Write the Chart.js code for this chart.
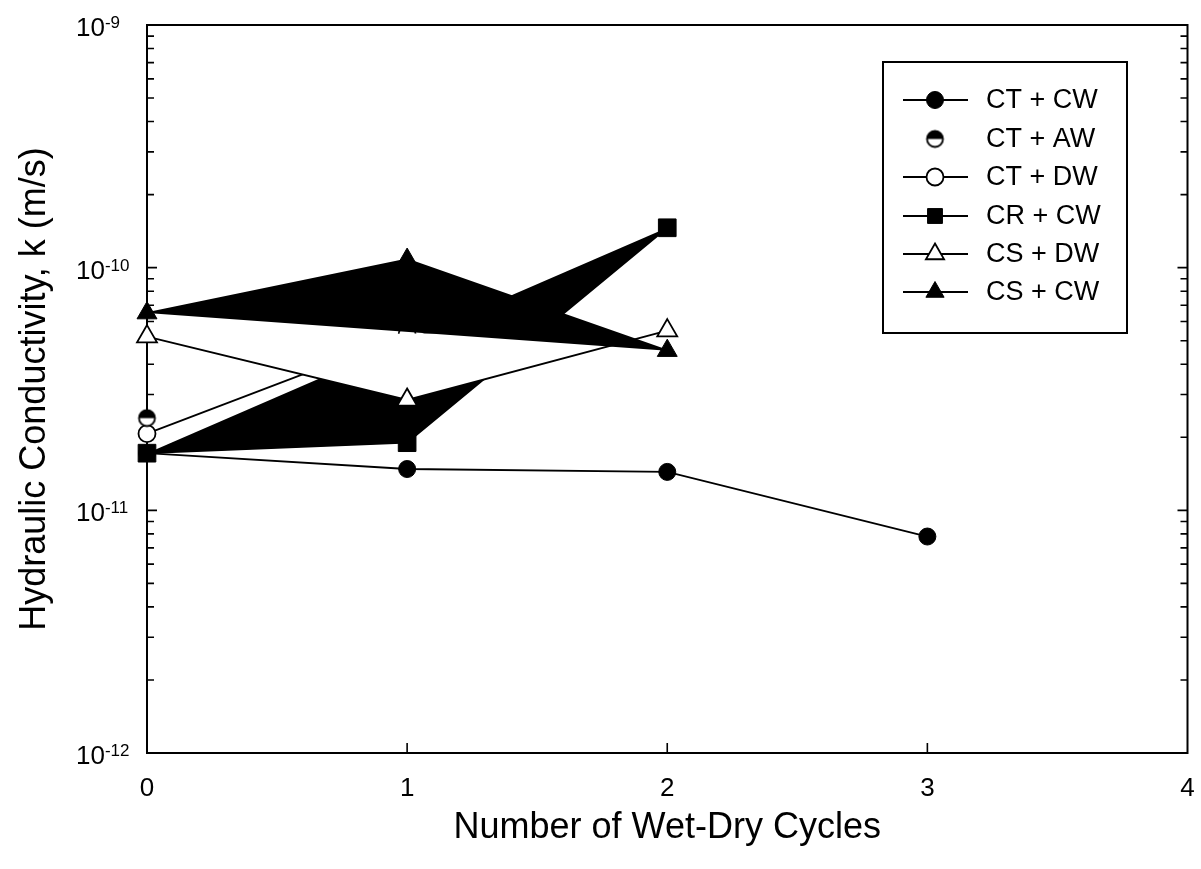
<!DOCTYPE html>
<html>
<head>
<meta charset="utf-8">
<title>Hydraulic Conductivity vs Wet-Dry Cycles</title>
<script src="https://cdn.jsdelivr.net/npm/chart.js@4.4.1/dist/chart.umd.min.js"></script>
<style>
  body { margin: 0; background: #fff; }
  canvas { display: block; }
</style>
</head>
<body>
<canvas id="kChart" width="1201" height="869"></canvas>
<script>
// wet-dry cycle number for each measurement
const cycles = [0, 1, 2, 3];

// hydraulic conductivity k (m/s) per specimen/permeant
const ctCw = [1.72e-11, 1.48e-11, 1.44e-11, 7.8e-12];
const ctAw = [2.4e-11];
const ctDw = [2.07e-11, 5.3e-11];
const crCw = [1.72e-11, 1.9e-11, 1.46e-10];
const csDw = [5.2e-11, 2.85e-11, 5.5e-11];
const csCw = [6.5e-11, 1.08e-10, 4.55e-11];

const seriesNames = ['CT + CW', 'CT + AW', 'CT + DW', 'CR + CW', 'CS + DW', 'CS + CW'];

// axis ticks
const xTicks = [0, 1, 2, 3, 4];
const yDecades = [-12, -11, -10, -9];

const FONT = "'Liberation Sans', Arial, Helvetica, sans-serif";
Chart.defaults.font.family = FONT;
Chart.defaults.color = '#000';

function toPoints(values) {
    return values.map((v, i) => ({ x: cycles[i], y: v }));
}

// half filled circle used for CT + AW
function halfCircle(r) {
    const c = document.createElement('canvas');
    const s = Math.ceil(r * 2 + 4);
    c.width = s;
    c.height = s;
    const g = c.getContext('2d');
    const m = s / 2;
    g.fillStyle = '#fff';
    g.beginPath();
    g.arc(m, m, r, 0, Math.PI * 2);
    g.fill();
    g.fillStyle = '#000';
    g.beginPath();
    g.arc(m, m, r, Math.PI, Math.PI * 2);
    g.closePath();
    g.fill();
    g.strokeStyle = '#000';
    g.lineWidth = 1.8;
    g.beginPath();
    g.arc(m, m, r - 0.5, 0, Math.PI * 2);
    g.stroke();
    return c;
}

const halfMarker = halfCircle(8.5);

const datasets = [
    {
        label: seriesNames[0], data: toPoints(ctCw), order: 1,
        borderColor: '#000', backgroundColor: '#000', borderWidth: 1.8,
        pointStyle: 'circle', pointRadius: 8.5, pointBorderWidth: 1, fill: false
    },
    {
        label: seriesNames[1], data: toPoints(ctAw), order: 2, showLine: false,
        borderColor: '#000', backgroundColor: '#000',
        pointStyle: halfMarker, fill: false
    },
    {
        label: seriesNames[2], data: toPoints(ctDw), order: 6,
        borderColor: '#000', backgroundColor: '#fff', borderWidth: 1.8,
        pointStyle: 'circle', pointRadius: 8.5, pointBorderWidth: 1.8, fill: false
    },
    {
        label: seriesNames[3], data: toPoints(crCw), order: 5,
        borderColor: '#000', backgroundColor: '#000', borderWidth: 1.8,
        pointStyle: 'rect', pointRadius: 12.5, pointBorderWidth: 1, fill: 'shape'
    },
    {
        label: seriesNames[4], data: toPoints(csDw), order: 4,
        borderColor: '#000', backgroundColor: '#fff', borderWidth: 1.8,
        pointStyle: 'triangle', pointRadius: 11.5, pointBorderWidth: 1.8, fill: 'shape'
    },
    {
        label: seriesNames[5], data: toPoints(csCw), order: 3,
        borderColor: '#000', backgroundColor: '#000', borderWidth: 1.8,
        pointStyle: 'triangle', pointRadius: 11.5, pointBorderWidth: 1, fill: 'shape'
    }
];

// top/right frame and inward tick marks
const axisDecor = {
    id: 'axisDecor',
    beforeDatasetsDraw(chart) {
        const { ctx, chartArea: a, scales: { x, y } } = chart;
        ctx.save();
        ctx.strokeStyle = '#000';
        ctx.lineWidth = 2;
        ctx.beginPath();
        ctx.moveTo(a.left - 1, a.top);
        ctx.lineTo(a.right, a.top);
        ctx.lineTo(a.right, a.bottom + 1);
        ctx.stroke();

        ctx.lineWidth = 1.6;
        ctx.beginPath();
        xTicks.slice(1, -1).forEach(v => {
            const px = x.getPixelForValue(v);
            ctx.moveTo(px, a.bottom);
            ctx.lineTo(px, a.bottom - 10);
        });
        for (let e = yDecades[0]; e <= yDecades[yDecades.length - 1]; e++) {
            const major = y.getPixelForValue(Math.pow(10, e));
            ctx.moveTo(a.left, major); ctx.lineTo(a.left + 10, major);
            ctx.moveTo(a.right, major); ctx.lineTo(a.right - 10, major);
            if (e === yDecades[yDecades.length - 1]) break;
            for (let m = 2; m <= 9; m++) {
                const py = y.getPixelForValue(m * Math.pow(10, e));
                ctx.moveTo(a.left, py); ctx.lineTo(a.left + 7, py);
                ctx.moveTo(a.right, py); ctx.lineTo(a.right - 7, py);
            }
        }
        ctx.stroke();
        ctx.restore();
    }
};

// power-of-ten labels on the log axis
const powerLabels = {
    id: 'powerLabels',
    afterDraw(chart) {
        const { ctx, scales: { y } } = chart;
        ctx.save();
        ctx.fillStyle = '#000';
        ctx.textAlign = 'left';
        ctx.textBaseline = 'alphabetic';
        yDecades.forEach(e => {
            const py = y.getPixelForValue(Math.pow(10, e));
            ctx.font = '26px ' + FONT;
            ctx.fillText('10', 76, py + 11);
            const w = ctx.measureText('10').width;
            ctx.font = '17px ' + FONT;
            ctx.fillText(String(e), 76 + w, py + 3);
        });
        ctx.restore();
    }
};

// boxed legend with line-through markers
const boxLegend = {
    id: 'boxLegend',
    afterDraw(chart) {
        const { ctx } = chart;
        const left = 883, top = 62, right = 1127, bottom = 333;
        ctx.save();
        ctx.fillStyle = '#fff';
        ctx.fillRect(left, top, right - left, bottom - top);
        ctx.strokeStyle = '#000';
        ctx.lineWidth = 2;
        ctx.strokeRect(left, top, right - left, bottom - top);

        const rowY = [100, 139, 177, 216, 254, 292];
        chart.data.datasets.forEach((ds, i) => {
            const cy = rowY[i];
            if (ds.showLine !== false) {
                ctx.strokeStyle = '#000';
                ctx.lineWidth = 1.8;
                ctx.beginPath();
                ctx.moveTo(903, cy);
                ctx.lineTo(968, cy);
                ctx.stroke();
            }
            ctx.fillStyle = ds.backgroundColor;
            ctx.strokeStyle = ds.borderColor;
            ctx.lineWidth = ds.pointBorderWidth || 1;
            Chart.helpers.drawPoint(ctx, {
                pointStyle: ds.pointStyle,
                radius: Math.min(ds.pointRadius || 8.5, 10.5),
                rotation: 0,
                borderWidth: ds.pointBorderWidth || 1
            }, 935, cy);
            ctx.fillStyle = '#000';
            ctx.font = '27px ' + FONT;
            ctx.textAlign = 'left';
            ctx.textBaseline = 'middle';
            ctx.fillText(ds.label, 986, cy + 1);
        });
        ctx.restore();
    }
};

new Chart(document.getElementById('kChart').getContext('2d'), {
    type: 'line',
    data: { datasets: datasets },
    options: {
        responsive: false,
        animation: false,
        devicePixelRatio: 1,
        clip: false,
        layout: { padding: { top: 25, right: 13, left: 0, bottom: 0 } },
        elements: { line: { tension: 0 } },
        plugins: {
            legend: { display: false },
            tooltip: { enabled: false }
        },
        scales: {
            x: {
                type: 'linear',
                min: 0,
                max: 4,
                afterFit: scale => {
                    scale.height = 116;
                    scale.paddingLeft = 0;
                    scale.paddingRight = 0;
                },
                afterBuildTicks: scale => { scale.ticks = xTicks.map(v => ({ value: v })); },
                grid: { display: false, drawTicks: false },
                border: { display: true, color: '#000', width: 2 },
                ticks: { font: { size: 26 }, color: '#000', padding: 20 },
                title: {
                    display: true,
                    text: 'Number of Wet-Dry Cycles',
                    font: { size: 36 },
                    color: '#000',
                    padding: { top: 0, bottom: 19 }
                }
            },
            y: {
                type: 'logarithmic',
                min: 1e-12,
                max: 1e-9,
                afterFit: scale => {
                    scale.width = 147;
                    scale.paddingTop = 0;
                    scale.paddingBottom = 0;
                },
                grid: { display: false, drawTicks: false },
                border: { display: true, color: '#000', width: 2 },
                ticks: { display: false },
                title: {
                    display: true,
                    text: 'Hydraulic Conductivity, k (m/s)',
                    font: { size: 36 },
                    color: '#000',
                    padding: { top: 13, bottom: 0 }
                }
            }
        }
    },
    plugins: [axisDecor, powerLabels, boxLegend]
});
</script>
</body>
</html>
